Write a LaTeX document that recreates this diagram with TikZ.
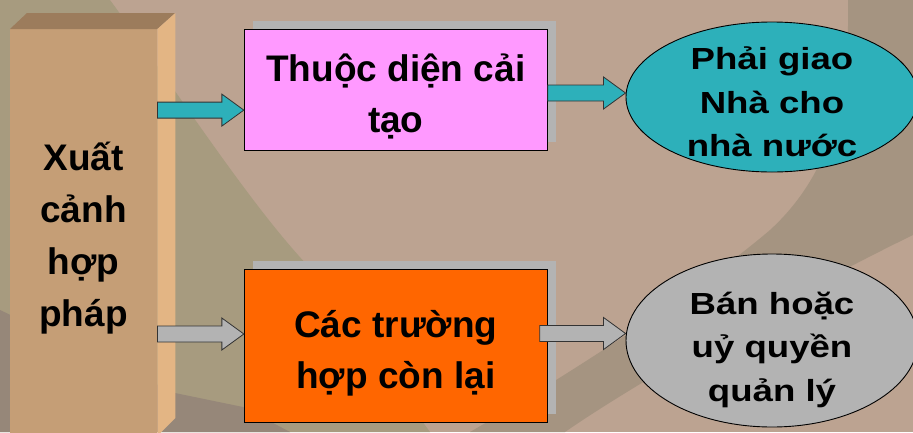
\documentclass[tikz,border=0pt]{standalone}
\usepackage{fontspec}
\setmainfont{Liberation Sans}
\newfontfamily\ovalfamily[FakeStretch=1.2]{Liberation Sans}
\usetikzlibrary{calc,shapes.geometric,shadows}
\definecolor{bglight}{HTML}{BCA391}
\definecolor{bgolive}{HTML}{A79B7F}
\definecolor{bgband}{HTML}{A59481}
\definecolor{bgdark}{HTML}{968779}
\definecolor{colfront}{HTML}{C59E76}
\definecolor{coltop}{HTML}{9C7C5C}
\definecolor{colside}{HTML}{E3B584}
\definecolor{pinkbox}{HTML}{FF99FF}
\definecolor{orangebox}{HTML}{FF6600}
\definecolor{tealfill}{HTML}{2DB0BA}
\definecolor{grayfill}{HTML}{B3B3B3}
\newcommand{\boxfont}{\fontsize{37}{51}\selectfont\bfseries}
\newcommand{\colfont}{\fontsize{37}{52}\selectfont\bfseries}
\newcommand{\ovalfont}{\ovalfamily\fontsize{30.5}{43.5}\selectfont\bfseries}
\newcommand{\up}[1]{\rule{0pt}{#1}}
\newcommand{\down}[1]{\rule[-#1]{0pt}{#1}}
\newcommand{\blockarrow}[3]{\draw[#1] let \p1=(#2), \p2=(#3) in ({\x1},{\y2+8pt}) -- ({\x2-22pt},{\y2+8pt}) -- ({\x2-22pt},{\y2+16pt}) -- (\p2) -- ({\x2-22pt},{\y2-16pt}) -- ({\x2-22pt},{\y2-8pt}) -- ({\x1},{\y2-8pt}) -- cycle;}
\tikzset{
  case/.style={draw=black, line width=0.9pt, minimum width=303pt, inner sep=0pt, align=center, font=\boxfont, drop shadow={shadow xshift=9pt, shadow yshift=8pt, fill=grayfill, opacity=1}},
  result/.style={ellipse, draw=black, line width=0.9pt, minimum width=292pt, inner xsep=0pt, inner ysep=-20pt, align=center, font=\ovalfont},
  arrowline/.style={draw=black!80, line width=0.8pt, line join=miter}
}
\begin{document}
\begin{tikzpicture}[x=1pt,y=-1pt]
\useasboundingbox (0,0) rectangle (913,432);
\clip (0,0) rectangle (913,432);
\fill[bglight] (0,0) rectangle (913,432);
\fill[bgolive] (0,0) -- (110,0) .. controls (180,95) and (250,205) .. (310,268) -- (430,432) -- (0,432) -- cycle;
\fill[bgdark] (0,310) -- (175,393) -- (243,407) -- (290,432) -- (0,432) -- cycle;
\fill[bgband] (848,0) -- (913,0) -- (913,235) .. controls (800,290) and (640,380) .. (565,432) -- (470,432) .. controls (560,380) and (700,290) .. (770,230) .. controls (830,175) and (850,100) .. (848,0) -- cycle;

\node[fill=colfront, inner sep=0pt, minimum width=147pt, minimum height=411pt, anchor=north west] (col) at (10,29) {};
\fill[coltop] (col.north west) -- ++(17,-16) -- ++(148,0) -- (col.north east) -- cycle;
\fill[colside] (col.north east) -- ++(18,-16) -- ++(0,405) -- ++(-18,18) -- cycle;
\node[font=\colfont, align=center] (exit) at (83.5,238) {Xuất\\cảnh\\hợp\\pháp};

\node[case, fill=pinkbox, minimum height=120.7pt] (cai) at (395.8,89.6) {\up{45.7pt}Thuộc diện cải\\tạo\down{10pt}};
\node[case, fill=orangebox, minimum height=152.7pt] (con) at (395.8,345.7) {\up{44.7pt}Các trường\\hợp còn lại\down{10pt}};
\node[result, fill=tealfill, minimum height=150pt] (giao) at (772,97) {\up{40pt}Phải giao\\Nhà cho\\nhà nước\down{8pt}};
\node[result, fill=grayfill, minimum height=173pt] (ban) at (772,340.5) {\up{42pt}Bán hoặc\\uỷ quyền\\quản lý\down{8pt}};

\blockarrow{arrowline, fill=tealfill}{col.east}{[yshift=-20.5pt]cai.west}
\blockarrow{arrowline, fill=tealfill}{cai.east}{[yshift=4pt]giao.west}
\blockarrow{arrowline, fill=grayfill}{col.east}{[yshift=11.7pt]con.west}
\blockarrow{arrowline, fill=grayfill}{[xshift=-8pt]con.east}{[yshift=7pt]ban.west}
\end{tikzpicture}
\end{document}
